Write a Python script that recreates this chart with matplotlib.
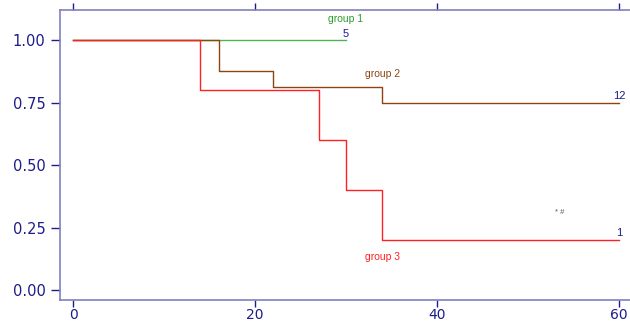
import matplotlib
matplotlib.use("Agg")
import matplotlib.pyplot as plt

plt.rcParams['font.family'] = ['Liberation Sans', 'DejaVu Sans']

# Kaplan-Meier style step data (time, survival)
g1_t = [0, 30]
g1_s = [1.0, 1.0]
g2_t = [0, 16, 22, 34, 60]
g2_s = [1.0, 0.875, 0.8125, 0.75, 0.75]
g3_t = [0, 14, 27, 30, 34, 60]
g3_s = [1.0, 0.8, 0.6, 0.4, 0.2, 0.2]

xticks = [0, 20, 40, 60]
yticks = [0.0, 0.25, 0.5, 0.75, 1.0]

navy = '#1c1c8a'
spine_col = '#8080c0'

fig = plt.figure(figsize=(6.3, 3.22), dpi=100)
ax = fig.add_axes([60 / 630, 22 / 322, 570 / 630, 290 / 322])

ax.step(g1_t, g1_s, where='post', color='#55b055', lw=1)
ax.step(g2_t, g2_s, where='post', color='#8b4513', lw=1)
ax.step(g3_t, g3_s, where='post', color='#ff2020', lw=1)

ax.set_xlim(-1.43, 61.2)
ax.set_ylim(-0.04, 1.12)
ax.set_xticks(xticks)
ax.set_yticks(yticks)
ax.set_yticklabels([f"{v:.2f}" for v in yticks])

for side in ['left', 'bottom', 'top']:
    ax.spines[side].set_color(spine_col)
    ax.spines[side].set_linewidth(1.2)
ax.spines['right'].set_visible(False)
ax.tick_params(axis='both', colors=navy, labelcolor=navy, width=1)
ax.tick_params(axis='y', labelsize=10.5, length=6.5, pad=4)
ax.tick_params(axis='x', labelsize=10, length=5, pad=0.8, top=True, direction='out')
for lab in ax.get_xticklabels() + ax.get_yticklabels():
    lab.set_family('DejaVu Sans')

# annotations
ax.text(30, 1.085, 'group 1', color='#2e9a2e', fontsize=7.5, ha='center', va='center')
ax.text(30, 1.024, '5', color=navy, fontsize=8, ha='center', va='center')
ax.text(34, 0.865, 'group 2', color='#8b4513', fontsize=7.5, ha='center', va='center')
ax.text(60, 0.778, '12', color=navy, fontsize=8, ha='center', va='center')
ax.text(34, 0.13, 'group 3', color='#ff2020', fontsize=7.5, ha='center', va='center')
ax.text(60, 0.226, '1', color=navy, fontsize=8, ha='center', va='center')
ax.text(53.5, 0.312, '* #', color='#555555', fontsize=5.5, ha='center', va='center')

fig.savefig('out.png', dpi=100)
